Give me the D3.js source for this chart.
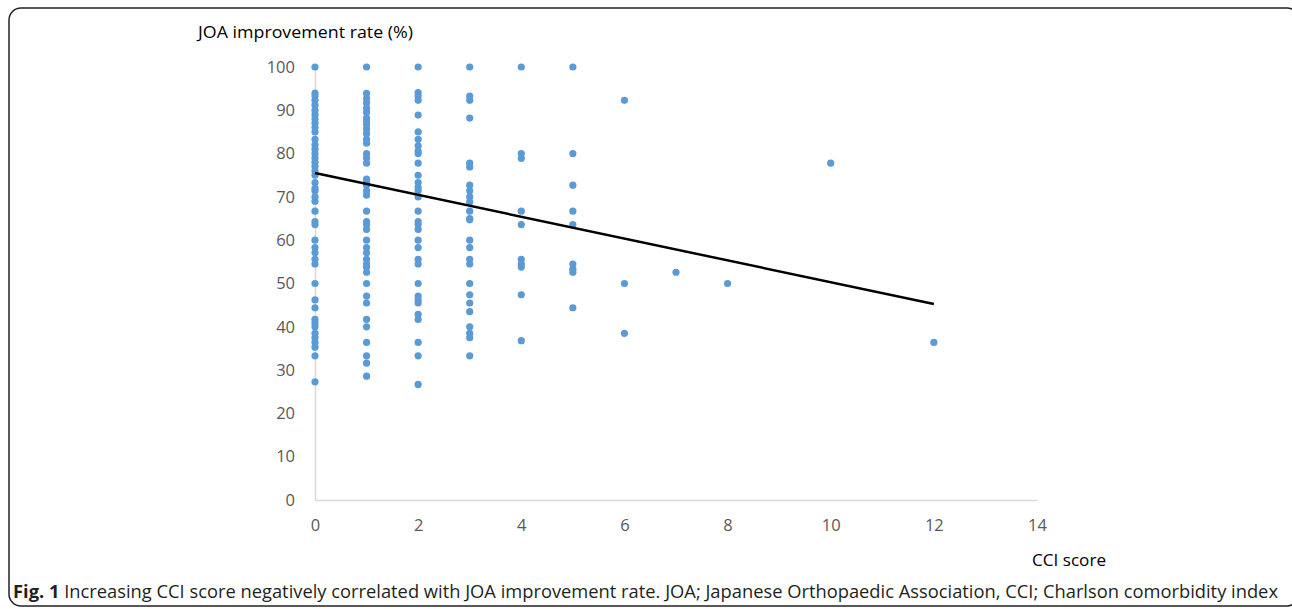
<!DOCTYPE html>
<html><head><meta charset="utf-8">
<script src="https://cdn.jsdelivr.net/npm/d3@7/dist/d3.min.js"></script>
<style>body{margin:0;background:#fff;} svg{display:block;}</style>
</head><body>
<svg id="c" width="1292" height="609"></svg>
<script>
// CCI score (x) and JOA improvement rate (y)
const cci0 = [100,94,93.3,92.3,91.2,90,89,88,87,86,85,83.3,82,81,80,79,78,77,76,75,73.3,72,71.4,70,69,66.7,64.3,63.6,60,58.3,57.1,55.6,54.5,50,46.2,44.4,41.7,40.9,40,38.5,37.5,36.4,35.3,33.3,27.3];
const cci1 = [100,93.9,92.7,91.7,90.5,89.5,88.2,87.5,86.7,85.7,84.6,83.3,82.4,80,79,77.8,74.1,73.3,72.7,71.4,70.4,66.7,64.3,63.6,62.5,60,58.3,57.1,55.6,54.5,53.8,52.6,50,47.1,45.5,41.7,40,36.4,33.3,31.6,28.6];
const cci2 = [100,94.1,93.3,92.3,88.9,85,83.3,81.8,80.6,80,77.8,75,73.3,72.2,71.4,70,66.7,64.3,63.6,62.5,60,58.3,55.6,54.5,50,47.1,46.2,45.5,42.9,41.7,36.4,33.3,26.7];
const cci3 = [100,93.3,92.3,88.2,77.8,76.9,72.7,71.4,70,68.8,66.7,65,64.7,60,58.3,55.6,54.5,50,47.4,45.5,43.5,40,38.5,37.5,33.3];
const cci4 = [100,80,78.9,66.7,63.6,55.6,54.5,53.8,47.4,36.8];
const cci5 = [100,80,72.7,66.7,63.6,54.5,53.3,52.6,44.4];
const cci6 = [92.3,50,38.5];
const cci7 = [52.6];
const cci8 = [50];
const cci10 = [77.8];
const cci12 = [36.4];
const groups = [[0,cci0],[1,cci1],[2,cci2],[3,cci3],[4,cci4],[5,cci5],[6,cci6],[7,cci7],[8,cci8],[10,cci10],[12,cci12]];
const trendX = [0,12];
const trendIntercept = 75.5, trendSlope = -2.52;
const xTicks = [0,2,4,6,8,10,12,14];
const yTicks = [0,10,20,30,40,50,60,70,80,90,100];

const svg = d3.select("#c");
const x = d3.scaleLinear().domain([0,14]).range([315,1037]);
const y = d3.scaleLinear().domain([0,100]).range([500,67]);

// frame
svg.append("rect").attr("x",9).attr("y",8).attr("width",1290).attr("height",598)
  .attr("rx",12).attr("fill","none").attr("stroke","#222").attr("stroke-width",1.5);

// axes
const xa = svg.append("g").attr("transform","translate(0,500)")
  .call(d3.axisBottom(x).tickValues(xTicks).tickSize(0).tickPadding(19));
const ya = svg.append("g").attr("transform","translate(315,0)")
  .call(d3.axisLeft(y).tickValues(yTicks).tickSize(0).tickPadding(20));
[xa,ya].forEach(a=>{
  a.select(".domain").attr("stroke","#d9d9d9").attr("stroke-width",1.5);
  a.selectAll("text").attr("fill","#595959").attr("font-family","Open Sans, sans-serif").attr("font-size",16.5);
});

// points
const pts = [];
groups.forEach(([cx,vals])=>vals.forEach(v=>pts.push([cx,v])));
svg.append("g").selectAll("circle").data(pts).join("circle")
  .attr("cx",d=>x(d[0])).attr("cy",d=>y(d[1])).attr("r",3.6).attr("fill","#5b9bd5");

// trend line
svg.append("line")
  .attr("x1",x(trendX[0])).attr("y1",y(trendIntercept+trendSlope*trendX[0]))
  .attr("x2",x(trendX[1])).attr("y2",y(trendIntercept+trendSlope*trendX[1]))
  .attr("stroke","#000").attr("stroke-width",2.5);

// titles
svg.append("text").attr("x",198).attr("y",38).attr("font-family","Open Sans, sans-serif")
  .attr("font-size",17).attr("fill","#000").attr("textLength",215).attr("lengthAdjust","spacingAndGlyphs")
  .text("JOA improvement rate (%)");
svg.append("text").attr("x",1032).attr("y",566).attr("font-family","Open Sans, sans-serif")
  .attr("font-size",17).attr("fill","#000").attr("textLength",74).attr("lengthAdjust","spacingAndGlyphs")
  .text("CCI score");

// caption
const cap = svg.append("text").attr("x",13).attr("y",598).attr("font-family","Open Sans, sans-serif")
  .attr("font-size",17.5).attr("fill","#231f20").attr("textLength",1265).attr("lengthAdjust","spacingAndGlyphs");
cap.append("tspan").attr("font-weight","bold").text("Fig. 1");
cap.append("tspan").text(" Increasing CCI score negatively correlated with JOA improvement rate. JOA; Japanese Orthopaedic Association, CCI; Charlson comorbidity index");
</script>
</body></html>
